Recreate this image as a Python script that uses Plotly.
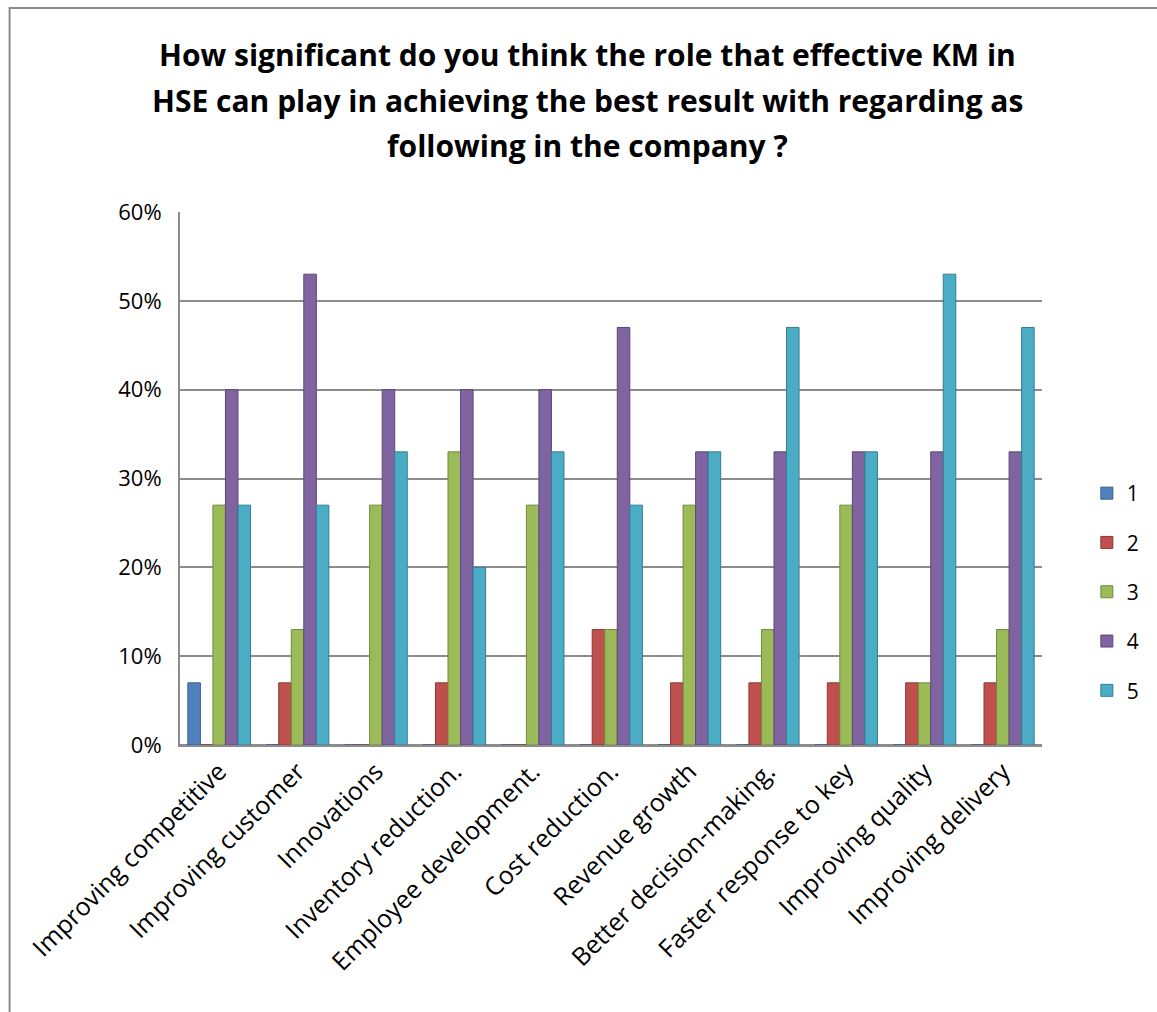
import plotly.graph_objects as go

categories = [
    "Improving competitive", "Improving customer", "Innovations",
    "Inventory reduction.", "Employee development.", "Cost reduction.",
    "Revenue growth", "Better decision-making.", "Faster response to key",
    "Improving quality", "Improving delivery",
]
series_names = ["1", "2", "3", "4", "5"]
s1 = [7, 0, 0, 0, 0, 0, 0, 0, 0, 0, 0]
s2 = [0, 7, 0, 7, 0, 13, 7, 7, 7, 7, 7]
s3 = [27, 13, 27, 33, 27, 13, 27, 13, 27, 7, 13]
s4 = [40, 53, 40, 40, 40, 47, 33, 33, 33, 33, 33]
s5 = [27, 27, 33, 20, 33, 27, 33, 47, 33, 53, 47]
series_values = [s1, s2, s3, s4, s5]
title_lines = [
    "How significant do you think the role that effective KM in",
    "HSE can play in achieving the best result with regarding as",
    "following in the company ?",
]
colors = ["#4F81BD", "#C0504D", "#9BBB59", "#8064A2", "#4BACC6"]
line_colors = ["#385D8A", "#8C3836", "#71893F", "#5C4776", "#357D91"]

fig = go.Figure()
for name, vals, c, lc in zip(series_names, series_values, colors, line_colors):
    fig.add_trace(go.Bar(
        x=categories, y=[v / 100 for v in vals], name=name,
        marker=dict(color=c, line=dict(color=lc, width=1)),
        legendgroup=name,
    ))

font_family = "Open Sans, Liberation Sans, sans-serif"
L, R, T, B = 180, 112, 212, 267
W, H = 1157, 1012
pw, ph = W - L - R, H - T - B

fig.update_layout(
    width=W, height=H,
    barmode="group", bargap=0.2, bargroupgap=0.0,
    paper_bgcolor="white", plot_bgcolor="white",
    margin=dict(l=L, r=R, t=T, b=B),
    font=dict(family=font_family, color="black"),
    legend=dict(
        x=(1090 - L) / pw, y=(H - B - 592) / ph, xanchor="left", yanchor="middle",
        font=dict(size=21), tracegroupgap=19, traceorder="grouped",
    ),
    showlegend=True,
)
# title, one line per annotation to match the line spacing
for i, line in enumerate(title_lines):
    ypix = 55 + 45 * i
    fig.add_annotation(
        text=line, xref="paper", yref="paper",
        x=(W / 2 + 10 - L) / pw, y=(H - B - ypix) / ph,
        xanchor="center", yanchor="middle", showarrow=False,
        font=dict(family=font_family, size=30, color="black", weight="bold"),
    )
fig.update_yaxes(
    range=[0, 0.6], dtick=0.1, tickformat=".0%",
    showgrid=True, gridcolor="#8C8C8C", gridwidth=2,
    showline=True, linecolor="#8C8C8C", linewidth=2,
    zeroline=True, zerolinecolor="#8C8C8C", zerolinewidth=2,
    tickfont=dict(size=22), ticks="", ticklabelstandoff=12,
)
fig.update_xaxes(
    tickangle=-45, tickfont=dict(size=25), showline=True,
    linecolor="#8C8C8C", linewidth=2, ticks="",
)
# outer chart border (top and left visible, right/bottom outside the view)
fig.add_shape(type="rect", xref="paper", yref="paper",
              x0=(9 - L) / pw, x1=(W + 10 - L) / pw,
              y0=-(B + 10) / ph, y1=(H - B - 8) / ph,
              line=dict(color="#8C8C8C", width=2), fillcolor="rgba(0,0,0,0)",
              layer="below")

fig.write_html("out.html", config={"displayModeBar": False},
               post_script="document.body.style.margin='0';document.body.style.overflow='hidden';")
